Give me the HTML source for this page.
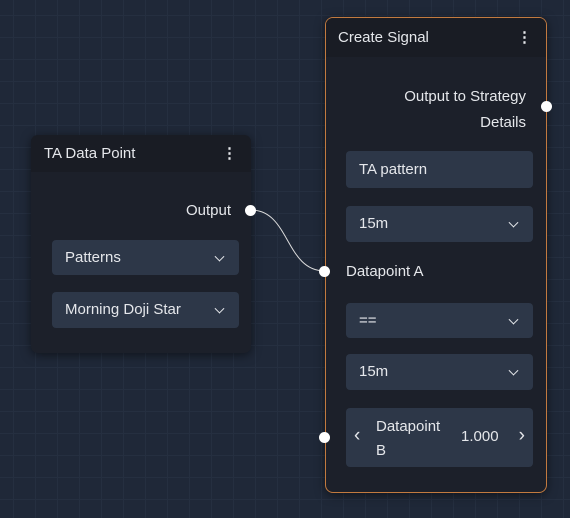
<!DOCTYPE html>
<html><head><style>
body{margin:0;width:570px;height:518px;overflow:hidden;background:#1f2838;
background-image:linear-gradient(#252f40 1px,transparent 1px),linear-gradient(90deg,#252f40 1px,transparent 1px);
background-size:22px 22px;background-position:13px 15px;font-family:"Liberation Sans",sans-serif;color:#e5e7eb;position:relative}
.node{position:absolute;background:#1c202a;border-radius:7px;box-shadow:0 2px 10px rgba(0,0,0,.5)}
.hdr{background:#191c24;border-radius:7px 7px 0 0;position:absolute;left:0;right:0;top:0;font-size:15px;padding-left:13px;box-sizing:border-box}
.dots{position:absolute;right:14px;top:0;font-weight:bold}
.f{position:absolute;background:#2d3748;border-radius:4px;font-size:15px;box-sizing:border-box;padding-left:13px}
.chev{position:absolute;right:16px;top:50%;width:6px;height:6px;border-right:1.6px solid #e5e7eb;border-bottom:1.6px solid #e5e7eb;transform:translateY(-70%) rotate(45deg)}
.lab{position:absolute;font-size:15px}
.dot{position:absolute;width:11px;height:11px;border-radius:50%;background:#fff}
</style></head><body>
<svg style="position:absolute;left:0;top:0" width="570" height="518"><path d="M251 210 C290 210,285 271,325 271" stroke="#ddd" stroke-width="1" fill="none"/></svg>
<div class="node" style="left:31px;top:135px;width:220px;height:218px">
 <div class="hdr" style="height:37px;line-height:37px">TA Data Point<span class="dots">⋮</span></div>
 <div class="lab" style="right:20px;top:67px">Output</div>
 <div class="f" style="left:21px;top:105px;width:187px;height:35px;line-height:35px">Patterns<i class="chev"></i></div>
 <div class="f" style="left:21px;top:157px;width:187px;height:36px;line-height:36px">Morning Doji Star<i class="chev"></i></div>
</div>
<div class="dot" style="left:245px;top:205px"></div>
<div class="node" style="left:325px;top:17px;width:222px;height:476px;border:1.5px solid #c27a3f;box-sizing:border-box;border-radius:8px">
 <div class="hdr" style="height:39px;line-height:39px;padding-left:12px">Create Signal<span class="dots">⋮</span></div>
 <div class="lab" style="right:20px;top:66px;text-align:right;line-height:26px">Output to Strategy<br>Details</div>
 <div class="f" style="left:20px;top:133px;width:187px;height:37px;line-height:37px">TA pattern</div>
 <div class="f" style="left:20px;top:188px;width:187px;height:36px;line-height:36px">15m<i class="chev"></i></div>
 <div class="lab" style="left:20px;top:245px">Datapoint A</div>
 <div class="f" style="left:20px;top:285px;width:187px;height:35px;line-height:35px">==<i class="chev"></i></div>
 <div class="f" style="left:20px;top:336px;width:187px;height:36px;line-height:36px">15m<i class="chev"></i></div>
 <div class="f" style="left:20px;top:390px;width:187px;height:59px">
  <span style="position:absolute;left:8px;top:17px;font-size:19px">‹</span>
  <span style="position:absolute;left:30px;top:7px;line-height:24px">Datapoint<br>B</span>
  <span style="position:absolute;left:115px;top:20px">1.000</span>
  <span style="position:absolute;right:8px;top:17px;font-size:19px">›</span>
 </div>
</div>
<div class="dot" style="left:541px;top:101px"></div>
<div class="dot" style="left:319px;top:266px"></div>
<div class="dot" style="left:319px;top:432px"></div>
</body></html>
